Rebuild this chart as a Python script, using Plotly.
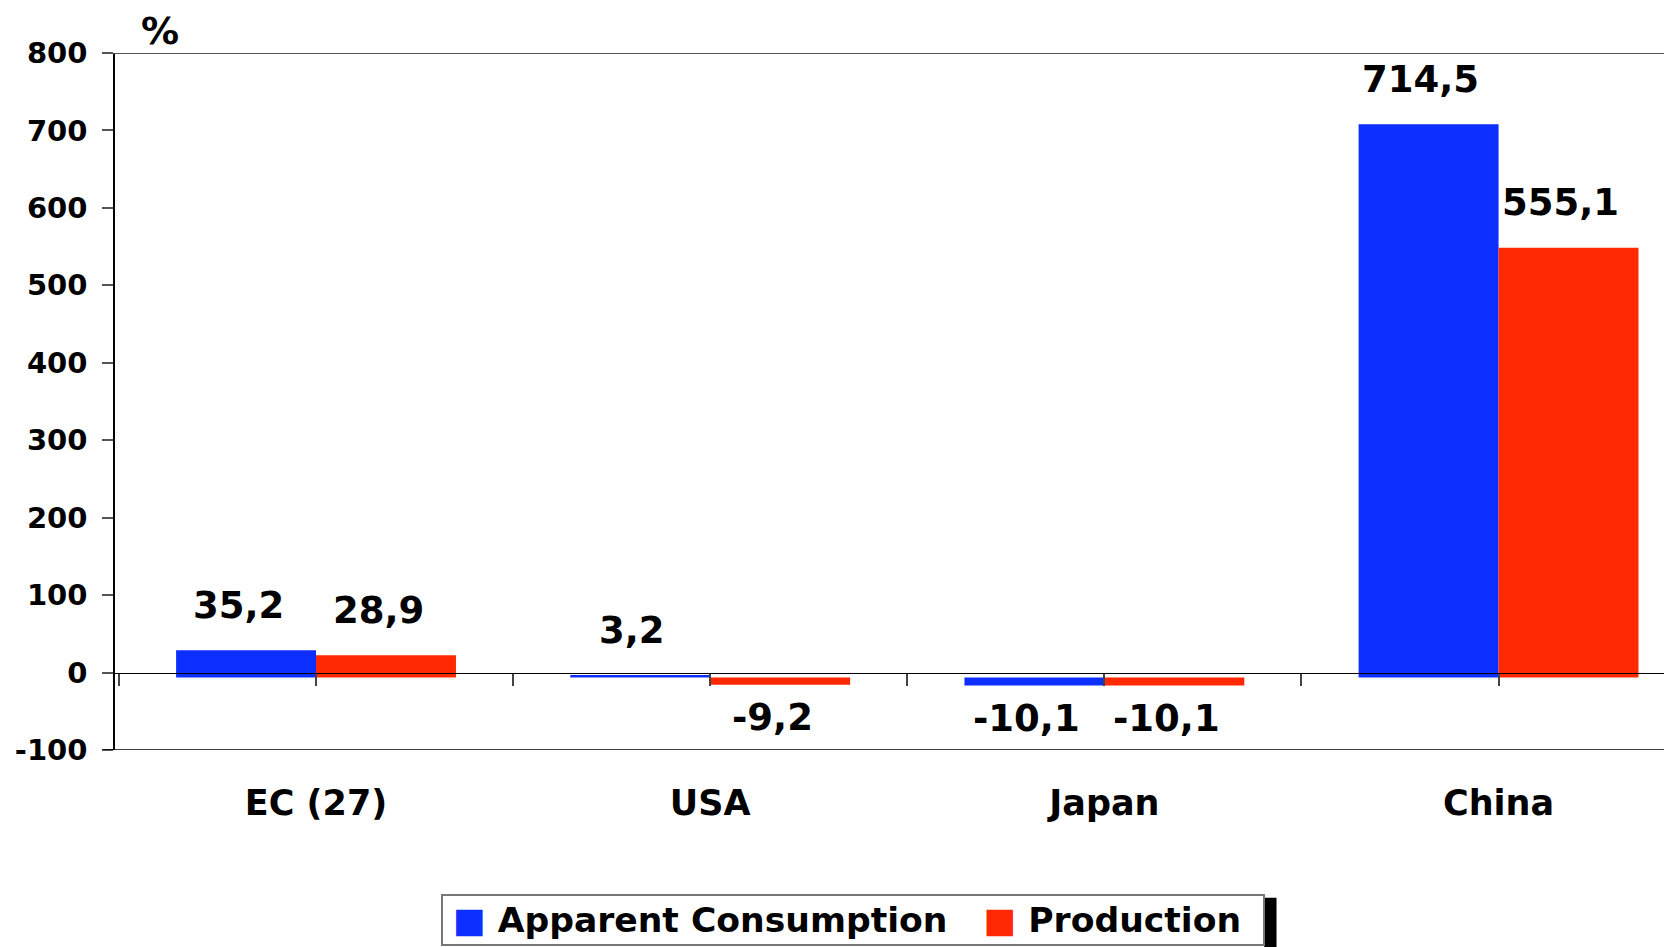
import plotly.graph_objects as go

categories = ['EC (27)', 'USA', 'Japan', 'China']
apparent_consumption = [35.2, 3.2, -10.1, 714.5]
production = [28.9, -9.2, -10.1, 555.1]
series_names = ['Apparent Consumption', 'Production']
y_ticks = [-100, 0, 100, 200, 300, 400, 500, 600, 700, 800]

BLUE = '#0c2eff'
RED = '#ff2800'
FONT = 'DejaVu Sans'
Y_MIN, Y_MAX = y_ticks[0], y_ticks[-1]
BAR_BASE = -6.5  # bars in the original sit a little under the zero line


def fmt(v):
    return f'{v:.1f}'.replace('.', ',')


def value_labels(values, xshift):
    notes = []
    for cat, v in zip(categories, values):
        notes.append(dict(x=cat, y=v, xref='x', yref='y', text=fmt(v), showarrow=False,
                          xshift=xshift, yshift=40 if v >= 0 else -38, yanchor='middle',
                          font=dict(family=FONT, size=37, color='black', weight='bold')))
    return notes


# ticks on the zero line: at category centres and between categories
tick_vals, tick_text = [], []
for i, cat in enumerate(categories):
    tick_vals += [i - 0.5, i]
    tick_text += ['', cat]
tick_vals.append(len(categories) - 0.5)
tick_text.append('')

traces = [
    go.Bar(x=categories, y=apparent_consumption, base=BAR_BASE, name=series_names[0],
           marker_color=BLUE, marker_line_width=0),
    go.Bar(x=categories, y=production, base=BAR_BASE, name=series_names[1],
           marker_color=RED, marker_line_width=0),
]

legend_text = (f'<span style="color:{BLUE}">\u25a0</span> {series_names[0]}'
               f'\u00a0\u00a0 <span style="color:{RED}">\u25a0</span> {series_names[1]}\u00a0')

annotations = value_labels(apparent_consumption, -78) + value_labels(production, 62)
annotations += [
    dict(text='%', xref='paper', yref='paper', x=0.016, y=1.0646, yanchor='top',
         showarrow=False, borderpad=0,
         font=dict(family=FONT, size=38, color='black', weight='bold')),
    dict(text=legend_text, xref='paper', yref='paper', x=0.474, y=-0.209, yanchor='top',
         showarrow=False, bordercolor='#777777', borderwidth=2, borderpad=4, bgcolor='white',
         width=812, height=40, valign='middle', yshift=2,
         font=dict(family=FONT, size=34.6, color='black', weight='bold')),
]

shapes = [
    dict(type='line', xref='paper', yref='y', x0=-0.008, x1=1, y0=Y_MAX, y1=Y_MAX,
         line=dict(color='#555555', width=2)),
    dict(type='line', xref='paper', yref='y', x0=-0.008, x1=1, y0=Y_MIN, y1=Y_MIN,
         line=dict(color='black', width=1.5)),
    # dark edge on the right of the legend box
    dict(type='rect', xref='paper', yref='paper', x0=0.738, x1=0.746, y0=-0.212, y1=-0.32,
         fillcolor='black', line_width=0),
]

# the page body adds an 8px margin, so the figure is 8px smaller than the window
fig = go.Figure(traces)
fig.update_layout(
    width=1664, height=939,
    margin=dict(l=107, r=0, t=45, b=197),
    paper_bgcolor='white', plot_bgcolor='white',
    barmode='group', bargap=0.29, bargroupgap=0,
    showlegend=False,
    annotations=annotations, shapes=shapes,
    xaxis=dict(type='category', range=[-0.51, 3.44], anchor='free', automargin=False,
               position=(0 - Y_MIN) / (Y_MAX - Y_MIN),
               showline=True, linecolor='black', linewidth=1.3,
               ticks='outside', ticklen=12, tickwidth=1.5, tickcolor='#444444',
               tickmode='array', tickvals=tick_vals, ticktext=tick_text,
               ticklabelstandoff=87, showgrid=False, zeroline=False,
               tickfont=dict(family=FONT, size=35, color='black', weight='bold')),
    yaxis=dict(range=[Y_MIN, Y_MAX], automargin=False, tickmode='array', tickvals=y_ticks,
               ticktext=[str(v) for v in y_ticks],
               showline=True, linecolor='black', linewidth=1.5,
               ticks='outside', ticklen=11, tickwidth=2, tickcolor='#555555',
               ticklabelstandoff=9, showgrid=False, zeroline=False,
               tickfont=dict(family=FONT, size=29, color='black', weight='bold')),
)

fig.write_html('out.html')
